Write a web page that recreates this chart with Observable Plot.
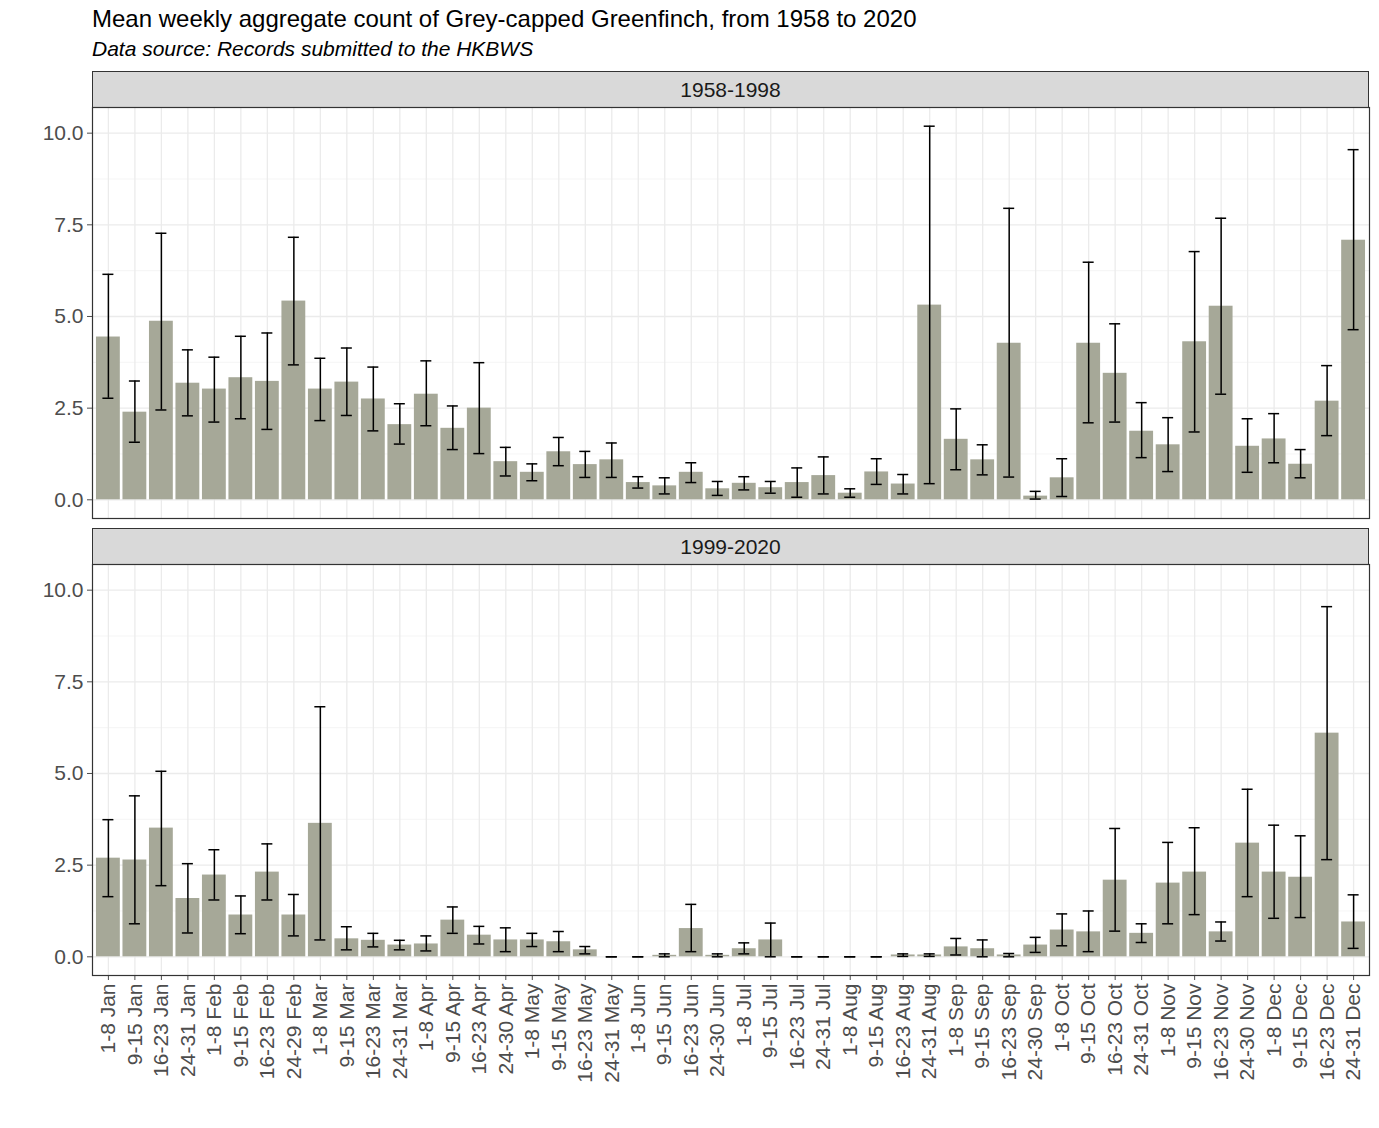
<!DOCTYPE html>
<html>
<head>
<meta charset="utf-8">
<script src="https://cdn.jsdelivr.net/npm/d3@7"></script>
<script src="https://cdn.jsdelivr.net/npm/@observablehq/plot@0.6"></script>
<style>
  html, body { margin: 0; padding: 0; background: #fff; overflow: hidden; }
  #root { position: relative; width: 1379px; height: 1128px; font-family: "Liberation Sans", Arial, sans-serif; }
  .title { position: absolute; left: 92px; top: 5px; font-size: 24px; color: #000; white-space: nowrap; }
  .subtitle { position: absolute; left: 92px; top: 37px; font-size: 21px; font-style: italic; color: #000; white-space: nowrap; }
  .strip { position: absolute; left: 92px; width: 1277px; height: 37px; box-sizing: border-box;
           background: #d9d9d9; border: 1px solid #333; font-size: 21px; color: #1a1a1a;
           text-align: center; line-height: 35px; }
  .panel { position: absolute; left: 0; }
</style>
</head>
<body>
<div id="root">
  <div class="title">Mean weekly aggregate count of Grey-capped Greenfinch, from 1958 to 2020</div>
  <div class="subtitle">Data source: Records submitted to the HKBWS</div>
  <div class="strip" style="top:71px">1958-1998</div>
  <div class="panel" id="p1" style="top:107px"></div>
  <div class="strip" style="top:528px">1999-2020</div>
  <div class="panel" id="p2" style="top:564px"></div>
</div>
<script>
const weeks = ["1-8 Jan","9-15 Jan","16-23 Jan","24-31 Jan","1-8 Feb","9-15 Feb","16-23 Feb","24-29 Feb",
  "1-8 Mar","9-15 Mar","16-23 Mar","24-31 Mar","1-8 Apr","9-15 Apr","16-23 Apr","24-30 Apr",
  "1-8 May","9-15 May","16-23 May","24-31 May","1-8 Jun","9-15 Jun","16-23 Jun","24-30 Jun",
  "1-8 Jul","9-15 Jul","16-23 Jul","24-31 Jul","1-8 Aug","9-15 Aug","16-23 Aug","24-31 Aug",
  "1-8 Sep","9-15 Sep","16-23 Sep","24-30 Sep","1-8 Oct","9-15 Oct","16-23 Oct","24-31 Oct",
  "1-8 Nov","9-15 Nov","16-23 Nov","24-30 Nov","1-8 Dec","9-15 Dec","16-23 Dec","24-31 Dec"];

const periods = ["1958-1998", "1999-2020"];

const mean1958 = [4.44,2.39,4.87,3.18,3.02,3.33,3.23,5.42,3.02,3.21,2.75,2.05,2.88,1.95,2.50,1.04,
  0.75,1.31,0.96,1.09,0.47,0.38,0.75,0.30,0.45,0.33,0.47,0.66,0.18,0.76,0.43,5.31,
  1.65,1.09,4.27,0.10,0.60,4.27,3.45,1.87,1.50,4.31,5.28,1.46,1.66,0.97,2.69,7.08];
const hi1958 = [6.15,3.24,7.27,4.09,3.89,4.46,4.55,7.16,3.86,4.14,3.62,2.62,3.79,2.56,3.74,1.43,
  0.98,1.70,1.32,1.55,0.63,0.60,1.01,0.50,0.63,0.50,0.87,1.17,0.30,1.12,0.69,10.19,
  2.48,1.50,7.95,0.23,1.12,6.48,4.80,2.65,2.24,6.77,7.68,2.21,2.35,1.37,3.66,9.55];
const lo1958 = [2.77,1.57,2.45,2.29,2.12,2.21,1.92,3.68,2.16,2.30,1.88,1.52,2.02,1.37,1.26,0.65,
  0.52,0.93,0.61,0.61,0.32,0.16,0.47,0.12,0.27,0.18,0.07,0.16,0.07,0.42,0.16,0.44,
  0.82,0.68,0.62,0.02,0.09,2.10,2.12,1.15,0.77,1.85,2.88,0.75,1.01,0.60,1.75,4.64];

const mean1999 = [2.69,2.64,3.51,1.59,2.23,1.14,2.31,1.14,3.64,0.49,0.45,0.32,0.35,1.00,0.59,0.46,
  0.46,0.41,0.19,0,0,0.04,0.77,0.04,0.22,0.46,0,0,0,0,0.05,0.05,
  0.27,0.22,0.05,0.32,0.73,0.68,2.09,0.64,2.01,2.31,0.68,3.10,2.31,2.17,6.10,0.95];
const hi1999 = [3.74,4.39,5.06,2.54,2.92,1.66,3.08,1.70,6.82,0.82,0.64,0.45,0.57,1.36,0.83,0.79,
  0.64,0.69,0.28,0,0,0.08,1.43,0.08,0.38,0.92,0,0,0,0,0.08,0.08,
  0.50,0.46,0.09,0.53,1.17,1.25,3.50,0.90,3.12,3.52,0.95,4.57,3.59,3.30,9.55,1.69];
const lo1999 = [1.64,0.90,1.94,0.65,1.55,0.63,1.55,0.57,0.46,0.19,0.27,0.19,0.16,0.64,0.35,0.14,
  0.28,0.14,0.08,0,0,0,0.14,0,0.08,0,0,0,0,0,0.01,0.01,
  0.05,0,0,0.12,0.30,0.14,0.70,0.39,0.90,1.15,0.43,1.64,1.05,1.07,2.65,0.23];

const yTicks = [0, 2.5, 5, 7.5, 10];
const yMinor = [1.25, 3.75, 6.25, 8.75];

function makePanel(mean, lo, hi, showX) {
  const rows = weeks.map((w, i) => ({week: w, mean: mean[i], lo: lo[i], hi: hi[i]}));
  const panelH = 411;
  const step = 1277 / 48.2;
  const band = step * 0.9;
  const capW = 11;
  const inset = (band - capW) / 2;
  return Plot.plot({
    width: 1379,
    height: showX ? panelH + 140 : panelH,
    marginLeft: 92,
    marginRight: 10,
    marginTop: 0,
    marginBottom: showX ? 140 : 0,
    style: {fontFamily: "'Liberation Sans', Arial, sans-serif", fontSize: "21px", color: "#4d4d4d", background: "transparent", overflow: "visible"},
    x: {domain: weeks, paddingInner: 0.1, paddingOuter: 0.15, round: false, label: null,
        axis: showX ? "bottom" : null, tickRotate: -90, tickSize: 5, tickPadding: 3},
    y: {domain: [-0.51, 10.70], label: null, ticks: yTicks, tickFormat: d3.format(".1f"),
        tickSize: 5, tickPadding: 4},
    marks: [
      Plot.ruleY(yMinor, {stroke: "#f2f2f2", strokeWidth: 0.8}),
      Plot.ruleY(yTicks, {stroke: "#ebebeb", strokeWidth: 1.3}),
      Plot.ruleX(weeks, {x: d => d, stroke: "#ebebeb", strokeWidth: 1.3}),
      Plot.barY(rows, {x: "week", y: "mean", fill: "#a6a898"}),
      Plot.ruleX(rows, {x: "week", y1: "lo", y2: "hi", stroke: "#000", strokeWidth: 1.5}),
      Plot.tickY(rows, {x: "week", y: "lo", stroke: "#000", strokeWidth: 1.5, insetLeft: inset, insetRight: inset}),
      Plot.tickY(rows, {x: "week", y: "hi", stroke: "#000", strokeWidth: 1.5, insetLeft: inset, insetRight: inset}),
      Plot.frame({stroke: "#333", strokeWidth: 1.2})
    ]
  });
}

document.getElementById("p1").appendChild(makePanel(mean1958, lo1958, hi1958, false));
document.getElementById("p2").appendChild(makePanel(mean1999, lo1999, hi1999, true));
</script>
</body>
</html>
